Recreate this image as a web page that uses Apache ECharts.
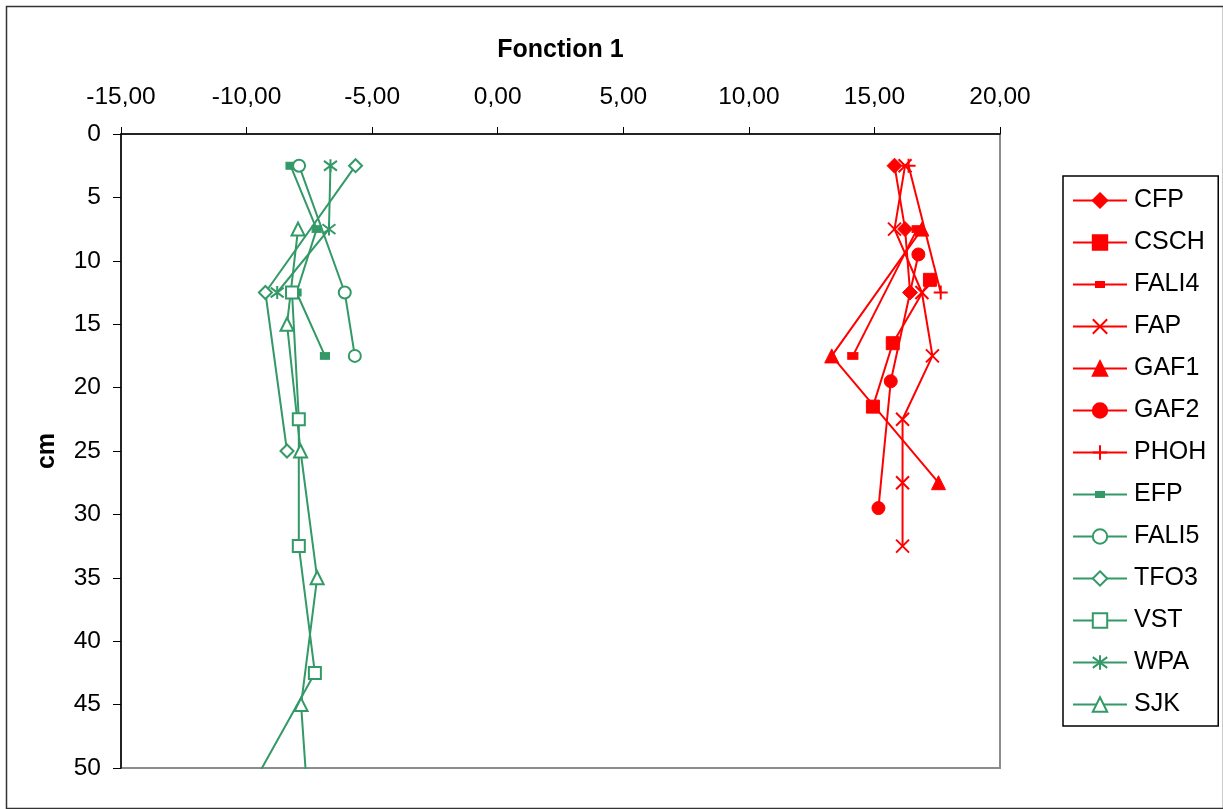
<!DOCTYPE html>
<html>
<head>
<meta charset="utf-8">
<script src="https://cdn.jsdelivr.net/npm/echarts@6/dist/echarts.min.js"></script>
<style>
html,body{margin:0;padding:0;background:#fff;}
#chart{width:1223px;height:809px;}
</style>
</head>
<body>
<div id="chart"></div>
<script>
// Depth (cm) and Fonction 1 values per series
const CFP_depth = [2.5, 7.5, 12.5];
const CFP_f1 = [15.80, 16.22, 16.42];
const CSCH_depth = [11.5, 16.5, 21.5];
const CSCH_f1 = [17.21, 15.73, 14.94];
const FALI4_depth = [7.5, 17.5];
const FALI4_f1 = [16.70, 14.14];
const FAP_depth = [2.5, 7.5, 12.5, 17.5, 22.5, 27.5, 32.5];
const FAP_f1 = [16.22, 15.80, 16.89, 17.31, 16.12, 16.12, 16.12];
const GAF1_depth = [7.5, 17.5, 27.5];
const GAF1_f1 = [16.89, 13.30, 17.55];
const GAF2_depth = [9.5, 19.5, 29.5];
const GAF2_f1 = [16.75, 15.65, 15.16];
const PHOH_depth = [2.5, 12.5];
const PHOH_f1 = [16.36, 17.64];
const EFP_depth = [2.5, 7.5, 12.5, 17.5];
const EFP_f1 = [-8.25, -7.21, -8.01, -6.88];
const FALI5_depth = [2.5, 12.5, 17.5];
const FALI5_f1 = [-7.91, -6.09, -5.69];
const TFO3_depth = [2.5, 12.5, 25];
const TFO3_f1 = [-5.66, -9.25, -8.39];
const VST_depth = [12.5, 22.5, 32.5, 42.5, 52.5];
const VST_f1 = [-8.19, -7.92, -7.92, -7.28, -10.09];
const WPA_depth = [2.5, 7.5, 12.5];
const WPA_f1 = [-6.66, -6.72, -8.78];
const SJK_depth = [7.5, 15, 25, 35, 45, 55];
const SJK_f1 = [-7.95, -8.39, -7.85, -7.19, -7.83, -7.48];

const xTicks = [-15, -10, -5, 0, 5, 10, 15, 20];
const yTicks = [0, 5, 10, 15, 20, 25, 30, 35, 40, 45, 50];

const RED = '#FF0000';
const GREEN = '#339966';
const FONT = 'Liberation Sans, Arial, sans-serif';

const X_PATH = 'path://M0,0L10,10M10,0L0,10';
const PLUS_PATH = 'path://M5,0L5,10M0,5L10,5';
const AST_PATH = 'path://M0.5,0.5L9.5,9.5M9.5,0.5L0.5,9.5M5,-1L5,11';
// legend icon: line with small rectangle marker (54 x 18 box)
const SMALL_RECT_ICON = 'path://M0,0H0.001V0.001H0Z M54,18H53.999V17.999H54Z M0,8H54V10H0Z M22,5.5H32V12.5H22Z';

function pairs(f1, depth) { return f1.map((v, i) => [v, depth[i]]); }

function mk(name, f1, depth, color, symbol, size, opts) {
  opts = opts || {};
  return {
    name: name,
    type: 'line',
    data: pairs(f1, depth),
    symbol: symbol,
    symbolSize: size,
    clip: true,
    lineStyle: { color: color, width: 2 },
    itemStyle: { color: color, borderColor: color, borderWidth: opts.bw != null ? opts.bw : 1 },
    z: 3
  };
}

const series = [
  mk('CFP', CFP_f1, CFP_depth, RED, 'diamond', 15),
  mk('CSCH', CSCH_f1, CSCH_depth, RED, 'rect', 13),
  mk('FALI4', FALI4_f1, FALI4_depth, RED, 'rect', [10, 7]),
  mk('FAP', FAP_f1, FAP_depth, RED, X_PATH, 13, { bw: 2 }),
  mk('GAF1', GAF1_f1, GAF1_depth, RED, 'triangle', 14),
  mk('GAF2', GAF2_f1, GAF2_depth, RED, 'circle', 13),
  mk('PHOH', PHOH_f1, PHOH_depth, RED, PLUS_PATH, 14, { bw: 2 }),
  mk('EFP', EFP_f1, EFP_depth, GREEN, 'rect', [9, 7]),
  mk('FALI5', FALI5_f1, FALI5_depth, GREEN, 'emptyCircle', 12, { bw: 2 }),
  mk('TFO3', TFO3_f1, TFO3_depth, GREEN, 'emptyDiamond', 13, { bw: 2 }),
  mk('VST', VST_f1, VST_depth, GREEN, 'emptyRect', 12, { bw: 2 }),
  mk('WPA', WPA_f1, WPA_depth, GREEN, AST_PATH, 13, { bw: 2 }),
  mk('SJK', SJK_f1, SJK_depth, GREEN, 'emptyTriangle', 13, { bw: 2 })
];

const legendData = series.map(s => {
  if (s.name === 'FALI4' || s.name === 'EFP') {
    return { name: s.name, icon: SMALL_RECT_ICON, itemStyle: { borderWidth: 0 } };
  }
  return { name: s.name };
});

const chart = echarts.init(document.getElementById('chart'), null, { renderer: 'canvas' });
chart.setOption({
  animation: false,
  backgroundColor: '#fff',
  textStyle: { fontFamily: FONT },
  graphic: [{
    type: 'rect', left: 4, top: 4,
    shape: { width: 1217, height: 802 },
    style: { fill: 'none', stroke: '#333', lineWidth: 1.5 },
    z: -1
  }],
  grid: {
    left: 121, right: 223, top: 134, bottom: 41,
    show: true, borderColor: '#8c8c8c', borderWidth: 2, backgroundColor: '#fff'
  },
  xAxis: {
    type: 'value', position: 'top',
    min: xTicks[0], max: xTicks[xTicks.length - 1], interval: 5,
    name: 'Fonction 1', nameLocation: 'middle', nameGap: 71,
    nameTextStyle: { fontFamily: FONT, fontSize: 25, fontWeight: 'bold', color: '#000' },
    axisLine: { show: true, onZero: false, lineStyle: { color: '#000', width: 1.5 } },
    axisTick: { show: true, inside: false, length: 7, lineStyle: { color: '#000', width: 1 } },
    axisLabel: {
      fontFamily: FONT, fontSize: 24.5, color: '#000', margin: 24,
      formatter: v => v.toFixed(2).replace('.', ',')
    },
    splitLine: { show: false }
  },
  yAxis: {
    type: 'value', inverse: true,
    min: yTicks[0], max: yTicks[yTicks.length - 1], interval: 5,
    name: 'cm', nameLocation: 'middle', nameGap: 61, nameRotate: 90,
    nameTextStyle: { fontFamily: FONT, fontSize: 25, fontWeight: 'bold', color: '#000' },
    axisLine: { show: true, onZero: false, lineStyle: { color: '#000', width: 1.5 } },
    axisTick: { show: true, inside: false, length: 8, lineStyle: { color: '#000', width: 1 } },
    axisLabel: { fontFamily: FONT, fontSize: 24.5, color: '#000', margin: 20 },
    splitLine: { show: false }
  },
  legend: {
    orient: 'vertical',
    left: 1063, top: 176,
    padding: [12, 12, 9, 9],
    itemWidth: 54, itemHeight: 18, itemGap: 17,
    borderColor: '#000', borderWidth: 1.5,
    backgroundColor: '#fff',
    textStyle: { fontFamily: FONT, fontSize: 25, color: '#000', padding: [0, 0, 0, 2] },
    data: legendData
  },
  series: series
});
</script>
</body>
</html>
